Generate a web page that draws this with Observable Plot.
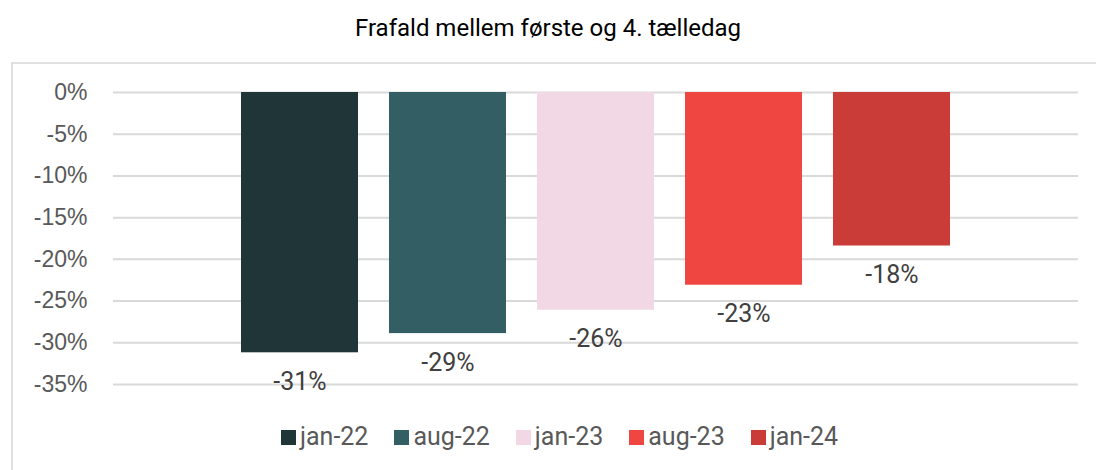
<!DOCTYPE html>
<html><head><meta charset="utf-8">
<script src="https://cdn.jsdelivr.net/npm/d3@7"></script>
<script src="https://cdn.jsdelivr.net/npm/@observablehq/plot@0.6"></script>
<style>
body{margin:0;background:#fff;width:1096px;height:470px;overflow:hidden;position:relative;font-family:Roboto,sans-serif}
#title{position:absolute;top:0;left:0;width:1096px;text-align:center;font-size:24px;line-height:56px;color:#000}
#frame{position:absolute;left:11px;top:62px;width:1200px;height:500px;border-top:2px solid #e0e0e0;border-left:2px solid #e0e0e0;box-sizing:border-box}
#chart{position:absolute;left:0;top:62px}
#legend{position:absolute;top:423px;left:281px;display:flex;align-items:center;gap:26px;font-size:25px;color:#595959}
#legend .item{display:flex;align-items:center;gap:4px;line-height:28px}
#legend .sw{width:15px;height:15px;display:inline-block}
</style></head>
<body>
<div id="title">Frafald mellem første og 4. tælledag</div>
<div id="frame"></div>
<div id="chart"></div>
<div id="legend"></div>
<script>
const periods = ["jan-22","aug-22","jan-23","aug-23","jan-24"];
const values = [-31.2,-28.9,-26.1,-23.1,-18.4];
const colors = ["#1f3537","#335e63","#f2d8e4","#f04641","#c93c37"];
const yTicks = [0,-5,-10,-15,-20,-25,-30,-35];

const data = periods.map((p,i)=>({period:p, value:values[i]}));
const pct = v => Math.round(v) + "%";

const chart = Plot.plot({
  width:1096, height:352,
  marginTop:30, marginBottom:30, marginLeft:113, marginRight:18,
  style:{fontFamily:"Roboto, sans-serif", background:"transparent"},
  x:{domain:periods, paddingInner:0.212, paddingOuter:0.855, axis:null},
  y:{domain:[-35,0], axis:null},
  color:{domain:periods, range:colors},
  marks:[
    Plot.ruleY(yTicks,{stroke:"#d9d9d9", strokeWidth:2}),
    Plot.barY(data,{x:"period", y1:0, y2:"value", fill:"period"}),
    Plot.text(data,{x:"period", y:"value", text:d=>pct(d.value), dy:29, fontSize:25, fill:"#404040"}),
    Plot.axisY({ticks:yTicks, tickFormat:d=>d+"%", tickSize:0, tickPadding:26, fontSize:23, fill:"#595959", fontFamily:"Liberation Sans, Arial, sans-serif", label:null})
  ]
});
document.getElementById("chart").appendChild(chart);

const legend = document.getElementById("legend");
periods.forEach((p,i)=>{
  const it = document.createElement("div"); it.className="item";
  const sw = document.createElement("span"); sw.className="sw"; sw.style.background=colors[i];
  const t = document.createElement("span"); t.textContent=p;
  it.appendChild(sw); it.appendChild(t); legend.appendChild(it);
});
</script>
</body></html>
